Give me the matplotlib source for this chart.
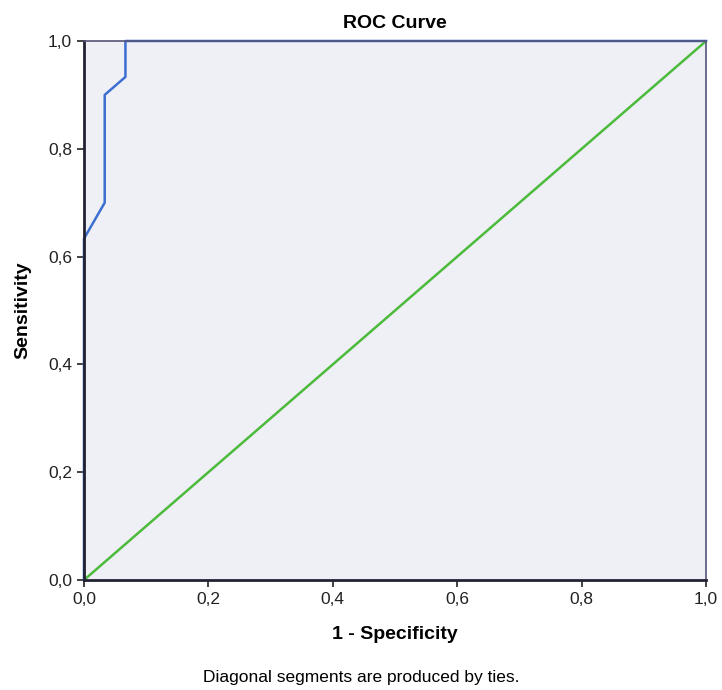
import matplotlib
matplotlib.use("Agg")
import matplotlib.pyplot as plt
from matplotlib.ticker import FuncFormatter

# ROC curve points (1 - specificity, sensitivity)
fpr = [0.0, 0.0, 1 / 30, 1 / 30, 2 / 30, 2 / 30, 1.0]
tpr = [0.0, 19 / 30, 21 / 30, 27 / 30, 28 / 30, 1.0, 1.0]
ref_line = [0.0, 1.0]
ticks = [0.0, 0.2, 0.4, 0.6, 0.8, 1.0]

plt.rcParams["font.family"] = ["Liberation Sans", "DejaVu Sans"]

fig = plt.figure(figsize=(7.22, 6.9), dpi=100)
ax = fig.add_axes([0.1163, 0.1594, 0.8617, 0.7812])
ax.set_facecolor("#efeff6")

ax.plot(ref_line, ref_line, color="#4cbb3c", lw=1.8, zorder=2)
ax.plot(fpr, tpr, color="#3d6fd0", lw=1.8, zorder=2.2, clip_on=False)

ax.set_xlim(0, 1)
ax.set_ylim(0, 1)
ax.set_xticks(ticks)
ax.set_yticks(ticks)
comma = FuncFormatter(lambda v, _: f"{v:.1f}".replace(".", ","))
ax.xaxis.set_major_formatter(comma)
ax.yaxis.set_major_formatter(comma)
ax.tick_params(direction="out", length=5, width=1.2, labelsize=12.5, colors="#222222")

for side in ["left", "bottom"]:
    ax.spines[side].set_color("#222233")
    ax.spines[side].set_linewidth(2.0)
for side in ["top", "right"]:
    ax.spines[side].set_color("#555577")
    ax.spines[side].set_linewidth(1.2)

ax.set_title("ROC Curve", fontsize=14, fontweight="bold", pad=9)
ax.set_xlabel("1 - Specificity", fontsize=14, fontweight="bold", labelpad=14)
ax.set_ylabel("Sensitivity", fontsize=14, fontweight="bold", labelpad=12)
fig.text(0.5, 0.012, "Diagonal segments are produced by ties.", ha="center", fontsize=12.5)

fig.savefig("out.png", dpi=100)
